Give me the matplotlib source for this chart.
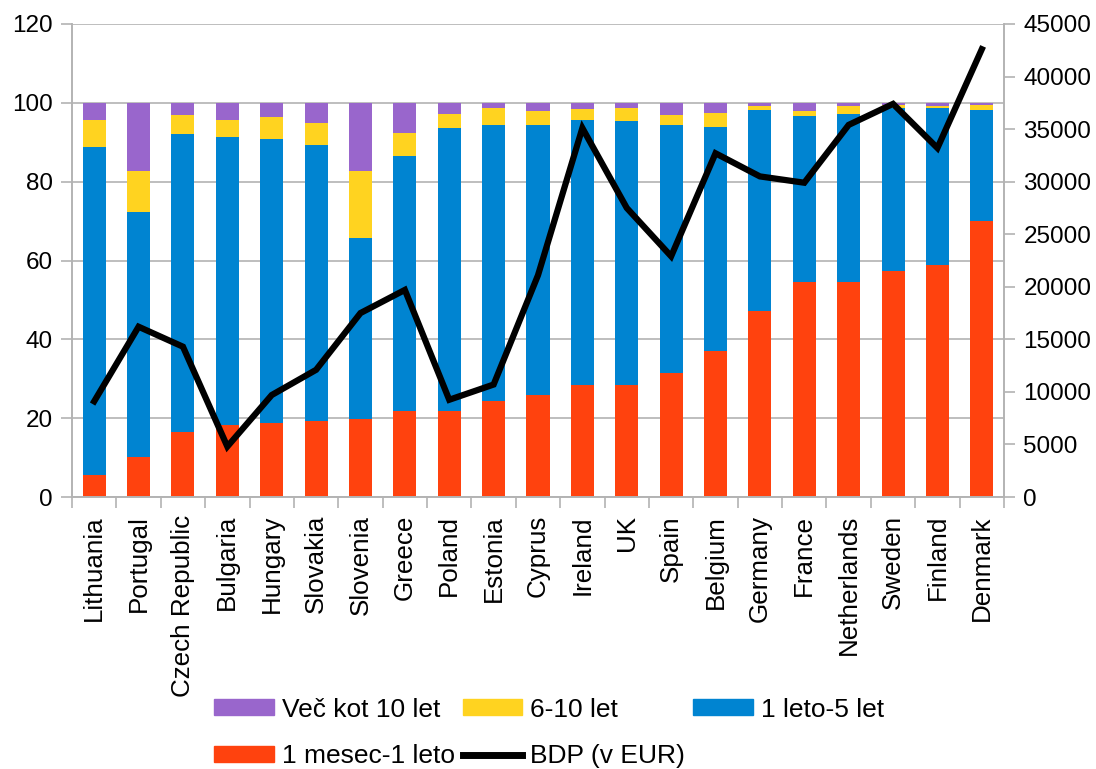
import matplotlib
matplotlib.use("Agg")
import matplotlib.pyplot as plt
import numpy as np
from matplotlib.patches import Patch
from matplotlib.lines import Line2D

plt.rcParams['font.family'] = ['Liberation Sans', 'DejaVu Sans']

countries = ["Lithuania", "Portugal", "Czech Republic", "Bulgaria", "Hungary", "Slovakia",
             "Slovenia", "Greece", "Poland", "Estonia", "Cyprus", "Ireland", "UK", "Spain",
             "Belgium", "Germany", "France", "Netherlands", "Sweden", "Finland", "Denmark"]

mesec_1_leto = [5.7, 10.1, 16.4, 18.3, 18.9, 19.4, 19.9, 21.7, 21.7, 24.3, 26.0, 28.5, 28.3, 31.4,
                37.1, 47.3, 54.6, 54.6, 57.4, 58.9, 70.1]
leto_5_let = [83.1, 62.3, 75.8, 73.1, 72.0, 69.9, 45.9, 64.9, 72.0, 70.1, 68.4, 67.2, 67.1, 63.0,
              56.8, 50.9, 42.1, 42.6, 41.3, 39.8, 28.1]
let_6_10 = [6.9, 10.2, 4.6, 4.3, 5.6, 5.6, 16.8, 5.8, 3.5, 4.3, 3.6, 2.8, 3.3, 2.6,
            3.6, 1.0, 1.3, 2.0, 0.8, 0.5, 1.3]
vec_10_let = [4.3, 17.4, 3.2, 4.3, 3.5, 5.1, 17.4, 7.6, 2.8, 1.3, 2.0, 1.5, 1.3, 3.0,
              2.5, 0.8, 2.0, 0.8, 0.5, 0.8, 0.5]
bdp_eur = [9100, 16200, 14300, 4800, 9700, 12100, 17500, 19700, 9250, 10700, 21100, 35100,
           27500, 22900, 32700, 30500, 29900, 35400, 37400, 33200, 42600]

c_red = "#FF420E"
c_blue = "#0084D1"
c_yellow = "#FFD320"
c_purple = "#9966CC"
grid_c = "#b3b3b3"

fig = plt.figure(figsize=(10.96, 7.69), dpi=100)
ax = fig.add_axes([72/1096, 1-497/769, (1004-72)/1096, (497-24)/769])

x = np.arange(len(countries))
w = 0.52
b1 = np.array(mesec_1_leto)
b2 = b1 + np.array(leto_5_let)
b3 = b2 + np.array(let_6_10)
ax.bar(x, mesec_1_leto, w, color=c_red, zorder=2)
ax.bar(x, leto_5_let, w, bottom=b1, color=c_blue, zorder=2)
ax.bar(x, let_6_10, w, bottom=b2, color=c_yellow, zorder=2)
ax.bar(x, vec_10_let, w, bottom=b3, color=c_purple, zorder=2)

ax.set_xlim(-0.5, len(countries) - 0.5)
ax.set_ylim(0, 120)
ax.set_yticks(range(0, 121, 20))
ax.grid(axis='y', color=grid_c, linewidth=1.2, zorder=0)
ax.set_axisbelow(True)
ax.set_xticks(x)
ax.set_xticklabels(countries, rotation=90, fontsize=18.7)
ax.set_xticks(np.arange(-0.5, len(countries), 1.0), minor=True)
ax.tick_params(axis='x', which='major', length=0, pad=13)
ax.tick_params(axis='x', which='minor', length=8, color=grid_c, width=1.2)
ax.tick_params(axis='y', labelsize=17.5, length=8, color=grid_c, width=1.2, pad=6)
ax.spines['top'].set_visible(False)
for s in ['left', 'right', 'bottom']:
    ax.spines[s].set_color(grid_c)
    ax.spines[s].set_linewidth(1.2)

ax2 = ax.twinx()
ax2.plot(x, bdp_eur, color='black', linewidth=4.5, solid_joinstyle='miter', zorder=3)
ax2.set_ylim(0, 45000)
ax2.set_yticks(range(0, 45001, 5000))
ax2.tick_params(axis='y', labelsize=17.5, length=8, color=grid_c, width=1.2, pad=6)
ax2.spines['top'].set_visible(False)
for s in ['left', 'right', 'bottom']:
    ax2.spines[s].set_color(grid_c)
    ax2.spines[s].set_linewidth(1.2)

handles = [Patch(color=c_purple), Patch(color=c_red), Patch(color=c_yellow),
           Line2D([], [], color='black', linewidth=5), Patch(color=c_blue)]
labels = ["Več kot 10 let", "1 mesec-1 leto", "6-10 let", "BDP (v EUR)", "1 leto-5 let"]
fig.legend(handles, labels, ncol=3, loc='center', bbox_to_anchor=(549/1096, 1-733/769),
           frameon=False, fontsize=19, handlelength=2.27, handleheight=0.57,
           columnspacing=0.3, handletextpad=0.3, labelspacing=0.87)

fig.savefig("out.png", dpi=100)
